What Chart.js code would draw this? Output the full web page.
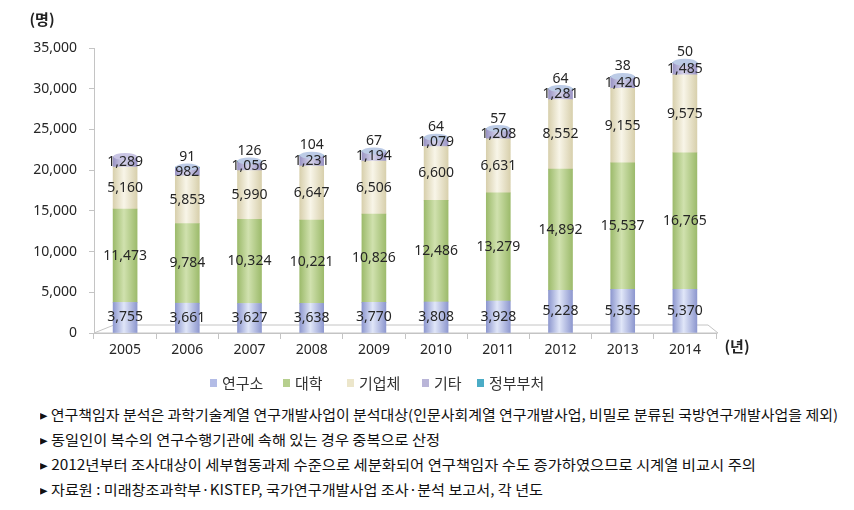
<!DOCTYPE html>
<html>
<head>
<meta charset="utf-8">
<script src="https://cdn.jsdelivr.net/npm/chart.js@4.4.0/dist/chart.umd.min.js"></script>
<style>
  body { margin: 0; background: #fff; }
  #wrap { position: relative; width: 854px; height: 510px; }
  #myChart { position: absolute; left: 0; top: 0; }
  .note { position: absolute; left: 40px; white-space: nowrap; font: 14px "Noto Sans CJK KR", sans-serif; color: #111; transform-origin: 0 50%; line-height: 20px; }
</style>
</head>
<body>
<div id="wrap">
  <canvas id="myChart" width="854" height="400"></canvas>
  <div class="note" data-w="798" style="top:404px">▸ 연구책임자 분석은 과학기술계열 연구개발사업이 분석대상(인문사회계열 연구개발사업, 비밀로 분류된 국방연구개발사업을 제외)</div>
  <div class="note" data-w="400" style="top:429px">▸ 동일인이 복수의 연구수행기관에 속해 있는 경우 중복으로 산정</div>
  <div class="note" data-w="716" style="top:454px">▸ 2012년부터 조사대상이 세부협동과제 수준으로 세분화되어 연구책임자 수도 증가하였으므로 시계열 비교시 주의</div>
  <div class="note" data-w="503" style="top:479px">▸ 자료원 : 미래창조과학부·KISTEP, 국가연구개발사업 조사·분석 보고서, 각 년도</div>
</div>
<script>
// 연구책임자 수 (명)
const years = ['2005', '2006', '2007', '2008', '2009', '2010', '2011', '2012', '2013', '2014'];
const seriesNames = ['연구소', '대학', '기업체', '기타', '정부부처'];
const institute = [3755, 3661, 3627, 3638, 3770, 3808, 3928, 5228, 5355, 5370];
const university = [11473, 9784, 10324, 10221, 10826, 12486, 13279, 14892, 15537, 16765];
const company = [5160, 5853, 5990, 6647, 6506, 6600, 6631, 8552, 9155, 9575];
const etc = [1289, 982, 1056, 1231, 1194, 1079, 1208, 1281, 1420, 1485];
const ministry = [null, 91, 126, 104, 67, 64, 57, 64, 38, 50];
const yTicks = [0, 5000, 10000, 15000, 20000, 25000, 30000, 35000];

// edge / centre colours for the cylinder look
const edgeCol = ['#8e98cf', '#9dbb6c', '#d8d0ad', '#9a94c4', '#31859c'];
const midCol  = ['#e0e6f8', '#d0e1ae', '#f8f5e8', '#d6d3ea', '#93cddd'];
const legendCol = ['#b3bce6', '#b6cf8e', '#ece6cb', '#b9b5d8', '#4bacc6'];

function cylinder(i) {
  return function(context) {
    var chart = context.chart;
    var xs = chart.scales.x;
    if (!xs || context.dataIndex === undefined) return edgeCol[i];
    var cx = xs.getPixelForValue(context.dataIndex);
    if (!isFinite(cx)) return edgeCol[i];
    var g = chart.ctx.createLinearGradient(cx - 12, 0, cx + 12, 0);
    g.addColorStop(0, edgeCol[i]);
    g.addColorStop(0.45, midCol[i]);
    g.addColorStop(1, edgeCol[i]);
    return g;
  };
}

// floor, caps, value labels, unit labels and legend
const extras = {
  id: 'extras',
  beforeDatasetsDraw(chart) {
    var c = chart.ctx, a = chart.chartArea;
    c.save();
    c.strokeStyle = '#c4c4c4';
    c.fillStyle = '#ffffff';
    c.lineWidth = 1;
    c.beginPath();
    c.moveTo(a.left, a.bottom);
    c.lineTo(a.left + 20, a.bottom - 8);
    c.lineTo(a.right - 8, a.bottom - 8);
    c.lineTo(a.right + 2, a.bottom);
    c.closePath();
    c.fill();
    c.stroke();
    c.restore();
  },
  afterDatasetsDraw(chart) {
    var c = chart.ctx;
    c.save();
    // elliptical cap on top of each column
    var n = chart.data.labels.length;
    for (var j = 0; j < n; j++) {
      var top = 3;
      if (chart.data.datasets[4].data[j] != null) top = 4;
      var el = chart.getDatasetMeta(top).data[j];
      var p = el.getProps(['x', 'y'], true);
      c.fillStyle = top === 4 ? '#bccbe6' : '#c9c5e4';
      c.beginPath();
      c.ellipse(p.x, p.y, 12, 3.5, 0, 0, Math.PI * 2);
      c.fill();
    }
    c.font = '14px "Noto Sans", sans-serif';
    c.fillStyle = '#262626';
    c.textAlign = 'center';
    c.textBaseline = 'middle';
    chart.data.datasets.forEach(function(ds, i) {
      var meta = chart.getDatasetMeta(i);
      meta.data.forEach(function(bar, j) {
        var v = ds.data[j];
        if (v == null) return;
        var p = bar.getProps(['x', 'y', 'base'], true);
        var ty = (p.y + p.base) / 2;
        if (i === 4) ty = p.y - 10;
        c.fillText(v.toLocaleString('en-US'), p.x, ty);
      });
    });
    // units
    c.font = 'bold 15px "Noto Sans CJK KR", sans-serif';
    c.fillStyle = '#222';
    c.fillText('(명)', 42, 19);
    c.fillText('(년)', 737, 346);
    // legend
    var lx = [210, 283, 347, 422, 477];
    c.font = '15px "Noto Sans CJK KR", sans-serif';
    c.textAlign = 'left';
    chart.data.datasets.forEach(function(ds, i) {
      c.fillStyle = legendCol[i];
      c.fillRect(lx[i], 379, 7, 8);
      c.fillStyle = '#333';
      c.fillText(ds.label, lx[i] + 12, 383);
    });
    c.restore();
  }
};

const datasets = [institute, university, company, etc, ministry].map(function(arr, i) {
  return {
    label: seriesNames[i],
    data: arr,
    backgroundColor: cylinder(i),
    borderWidth: 0,
    barThickness: 24
  };
});

const ctx = document.getElementById('myChart').getContext('2d');
const myChart = new Chart(ctx, {
  type: 'bar',
  data: { labels: years, datasets: datasets },
  plugins: [extras],
  options: {
    responsive: false,
    animation: false,
    devicePixelRatio: 1,
    layout: { padding: { top: 48, right: 138, left: 0, bottom: 0 } },
    plugins: {
      legend: { display: false },
      tooltip: { enabled: false }
    },
    scales: {
      x: {
        stacked: true,
        afterFit: function(s) { s.height = 67; },
        border: { color: '#c4c4c4' },
        grid: { drawOnChartArea: false, drawTicks: true, tickLength: 6, color: '#c4c4c4', offset: true },
        ticks: { color: '#262626', font: { family: '"Noto Sans", sans-serif', size: 14 }, padding: 3 }
      },
      y: {
        stacked: true,
        min: 0,
        max: 35000,
        afterFit: function(s) { s.width = 94; },
        afterBuildTicks: function(s) { s.ticks = yTicks.map(function(v) { return { value: v }; }); },
        border: { color: '#c4c4c4' },
        grid: { drawOnChartArea: false, drawTicks: true, tickLength: 5, color: '#c4c4c4' },
        ticks: {
          color: '#262626',
          font: { family: '"Noto Sans", sans-serif', size: 14 },
          padding: 12,
          callback: function(v) { return v.toLocaleString('en-US'); }
        }
      }
    }
  }
});

// fit the note lines to the widths of the original
document.querySelectorAll('.note').forEach(function(el) {
  var w = el.getBoundingClientRect().width;
  var target = parseFloat(el.getAttribute('data-w'));
  el.style.transform = 'scaleX(' + (target / w) + ')';
});
</script>
</body>
</html>
